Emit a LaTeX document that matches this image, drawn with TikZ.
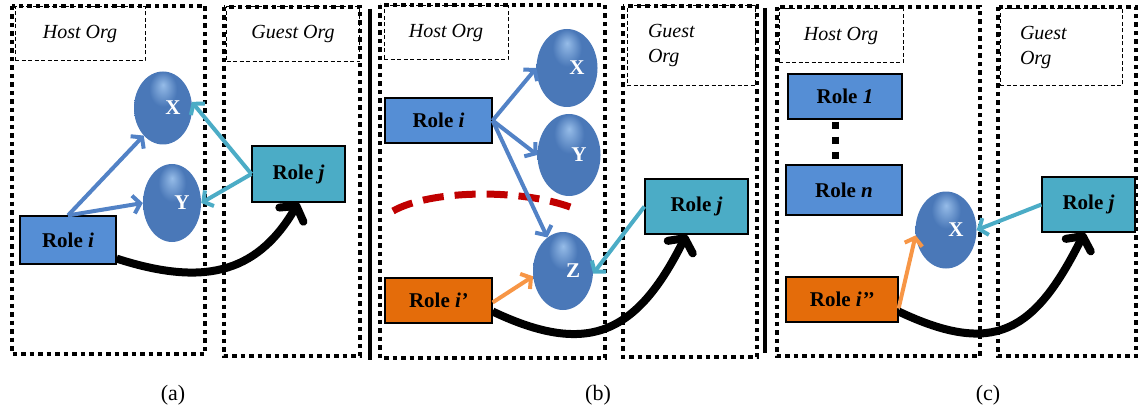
\documentclass[tikz,border=0pt]{standalone}
\usepackage{fontspec}
\setmainfont{Liberation Serif}
\usetikzlibrary{arrows.meta,shapes.geometric}
\definecolor{roleblue}{RGB}{85,142,213}
\definecolor{roleteal}{RGB}{75,172,198}
\definecolor{roleorange}{RGB}{228,108,10}
\definecolor{arrblue}{RGB}{82,130,198}
\definecolor{arrorange}{RGB}{247,150,70}
\definecolor{dashred}{RGB}{192,0,0}
\definecolor{ballhi}{RGB}{150,188,232}
\definecolor{ballmid}{RGB}{74,120,184}
\definecolor{balldark}{RGB}{30,54,92}
\pgfdeclareradialshading{orb}{\pgfpoint{0bp}{16bp}}{color(0bp)=(ballhi); color(12bp)=(ballmid); color(36bp)=(ballmid); color(62bp)=(balldark)}
\newcommand{\rolefont}{\fontsize{21}{24}\selectfont\bfseries}
\newcommand{\tagfont}{\fontsize{20}{25}\selectfont\itshape}
\tikzstyle{roleb}=[draw=black,line width=1.2pt,fill=roleblue,inner sep=0pt,font=\rolefont]
\tikzstyle{roleo}=[draw=black,line width=1.2pt,fill=roleorange,inner sep=0pt,font=\rolefont]
\tikzstyle{rolet}=[draw=black,line width=1.2pt,fill=roleteal,inner sep=0pt,font=\rolefont]
\tikzstyle{ballnode}=[ellipse,shade,shading=orb,inner sep=0pt]
\tikzstyle{balltext}=[text=white,font=\rolefont,xshift=10pt]
\tikzstyle{orgframe}=[line width=4.5pt,dash pattern=on 4.5pt off 4pt]
\tikzstyle{orgtag}=[draw,line width=1pt,dash pattern=on 4pt off 2.5pt,font=\tagfont,inner sep=0pt]
\tikzstyle{sepline}=[line width=4.5pt]
\tikzstyle{bluearr}=[arrblue,line width=4pt,-{Straight Barb[length=7pt,width=18pt]}]
\tikzstyle{tealarr}=[roleteal,line width=4pt,-{Straight Barb[length=7pt,width=18pt]}]
\tikzstyle{orarr}=[arrorange,line width=4pt,-{Straight Barb[length=7pt,width=18pt]}]
\tikzstyle{bigarr}=[black,line width=8pt,-{Straight Barb[length=10pt,width=28pt,round]}]
\begin{document}
\begin{tikzpicture}[x=1pt,y=-1pt]
    \useasboundingbox (0,0) rectangle (1139,414);
    % frames
    \draw[orgframe] (12,6) rectangle (205,354);
    \draw[orgframe] (224,7) rectangle (360,356);
    \draw[orgframe] (380,5) rectangle (605,358);
    \draw[orgframe] (623,6) rectangle (757,357);
    \draw[orgframe] (777,7) rectangle (980,356);
    \draw[orgframe] (998,7) rectangle (1136,356);
    \draw[sepline] (370,9) -- (370,360);
    \draw[sepline] (765,8) -- (765,353);
    \node[orgtag,minimum width=130pt,minimum height=54pt] (ha) at (80,34) {Host Org};
    \node[orgtag,minimum width=133pt,minimum height=55pt] (ga) at (293,34.5) {Guest Org};
    \node[orgtag,minimum width=124pt,minimum height=54pt] (hb) at (446,33) {Host Org};
    \node[orgtag,minimum width=128pt,minimum height=80pt,text width=86pt,align=left] (gb) at (691,46) {Guest\\Org};
    \node[orgtag,minimum width=124pt,minimum height=54pt] (hc) at (841,36) {Host Org};
    \node[orgtag,minimum width=122pt,minimum height=77pt,text width=82pt,align=left] (gc) at (1061,47.5) {Guest\\Org};

    % (a)
    \node[roleb,minimum width=96pt,minimum height=48pt] (ria) at (68,240) {Role \textit{i}};
    \node[rolet,minimum width=93pt,minimum height=56pt] (rja) at (298.5,174) {Role \textit{j}};
    \node[ballnode,minimum width=58pt,minimum height=73pt,label={[balltext]center:X}] (xa) at (163,108) {};
    \node[ballnode,minimum width=58pt,minimum height=78pt,label={[balltext]center:Y}] (ya) at (172,203) {};
    \foreach \from/\to in {ria.north/xa.235,ria.north/ya.west}
    \draw[bluearr] (\from) -- (\to);
    \foreach \from/\to in {rja.west/xa.12,rja.west/ya.east}
    \draw[tealarr] (\from) -- (\to);
    \draw[bigarr] ([yshift=6pt]ria.south east) .. controls +(84,27) and +(-43,73) .. (rja.south);

    % (b)
    \node[roleb,minimum width=107pt,minimum height=45pt] (rib) at (438.5,120.5) {Role \textit{i}};
    \node[roleo,minimum width=107pt,minimum height=45pt] (rip) at (438.5,300.5) {Role \textit{i’}};
    \node[rolet,minimum width=103pt,minimum height=55pt] (rjb) at (696.5,206.5) {Role \textit{j}};
    \node[ballnode,minimum width=61pt,minimum height=78pt,label={[balltext]center:X}] (xb) at (567,68) {};
    \node[ballnode,minimum width=63pt,minimum height=82pt,label={[balltext]center:Y}] (yb) at (569,155) {};
    \node[ballnode,minimum width=60pt,minimum height=78pt,label={[balltext]center:Z}] (zb) at (563,271) {};
    \draw[dashred,line width=7pt,dash pattern=on 21pt off 11pt] (393,211) .. controls (430,190) and (520,188) .. (573,208);
    \foreach \from/\to in {rib.east/xb.west,rib.east/yb.west,rib.east/zb.115}
    \draw[bluearr] (\from) -- (\to);
    \draw[orarr] ([yshift=-2pt]rip.east) -- (zb.190);
    \draw[tealarr] (rjb.west) -- (zb.355);
    \draw[bigarr] ([yshift=-11pt]rip.east) .. controls +(95,45) and +(-50,100) .. ([xshift=-10pt]rjb.south);

    % (c)
    \node[roleb,minimum width=114pt,minimum height=45pt] (r1c) at (845,96.5) {Role \textit{1}};
    \node[roleb,minimum width=116pt,minimum height=50pt] (rnc) at (844,190) {Role \textit{n}};
    \node[roleo,minimum width=112pt,minimum height=45pt] (ric) at (842,299.5) {Role \textit{i’’}};
    \node[rolet,minimum width=93pt,minimum height=55pt] (rjc) at (1088.5,204.5) {Role \textit{j}};
    \node[ballnode,minimum width=61pt,minimum height=77pt,label={[balltext]center:X}] (xc) at (946,230) {};
    \draw[line width=7pt,dash pattern=on 7pt off 8pt,shorten <=2pt,shorten >=4pt] ([xshift=-10pt]r1c.south) -- ([xshift=-9pt]rnc.north);
    \draw[tealarr] (rjc.west) -- (xc.east);
    \draw[orarr] ([yshift=-9pt]ric.east) -- (xc.190);
    \draw[bigarr] ([yshift=-12pt]ric.east) .. controls +(95,45) and +(-50,100) .. ([xshift=-4pt]rjc.south);

    % captions
    \node[font=\fontsize{22}{24}\selectfont] (capa) at (173,395) {(a)};
    \node[font=\fontsize{22}{24}\selectfont] (capb) at (598,395) {(b)};
    \node[font=\fontsize{22}{24}\selectfont] (capc) at (988,395) {(c)};
\end{tikzpicture}
\end{document}
